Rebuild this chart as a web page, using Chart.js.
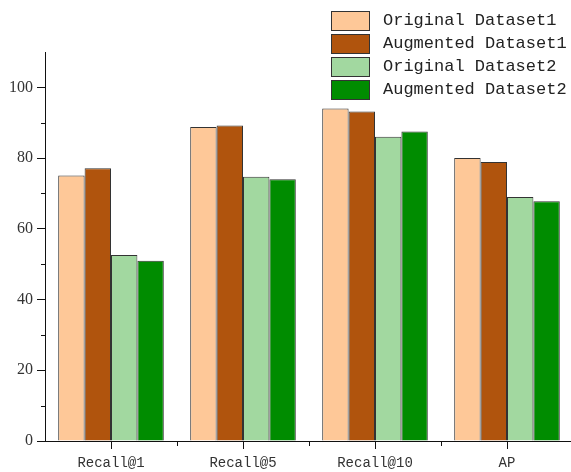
<!DOCTYPE html>
<html>
<head>
<meta charset="utf-8">
<script src="https://cdn.jsdelivr.net/npm/chart.js@4/dist/chart.umd.min.js"></script>
<style>
  html, body { margin: 0; padding: 0; background: #fff; overflow: hidden; width: 571px; height: 472px; }
  #wrap { position: relative; width: 571px; height: 472px; overflow: hidden; }
  canvas { position: absolute; left: 0; top: 0; }
  #legend { position: absolute; left: 331px; top: 9px; width: 240px; white-space: nowrap; font-family: "Liberation Mono", "DejaVu Sans Mono", monospace; font-size: 17px; color: #222; }
  .row { display: flex; align-items: center; height: 23px; white-space: nowrap; }
  .box { flex: none; width: 37px; height: 18px; border: 1px solid #333; margin-right: 13px; }
</style>
</head>
<body>
<div id="wrap">
  <canvas id="c" width="580" height="472"></canvas>
  <div id="legend"></div>
</div>
<script>
const categories = ["Recall@1", "Recall@5", "Recall@10", "AP"];
const seriesNames = ["Original Dataset1", "Augmented Dataset1", "Original Dataset2", "Augmented Dataset2"];
const originalDataset1 = [75.1, 88.8, 94.0, 80.0];
const augmentedDataset1 = [77.1, 89.2, 93.2, 78.9];
const originalDataset2 = [52.6, 74.7, 86.0, 69.0];
const augmentedDataset2 = [51.0, 74.0, 87.5, 67.8];
const seriesColors = ["#FEC898", "#B0540D", "#A2D8A0", "#008C00"];

const seriesValues = [originalDataset1, augmentedDataset1, originalDataset2, augmentedDataset2];

const datasets = seriesNames.map((name, i) => ({
  label: name,
  data: seriesValues[i],
  backgroundColor: seriesColors[i],
  borderColor: "#333",
  borderWidth: 1,
  barPercentage: 1.0,
  categoryPercentage: 0.8
}));

// HTML legend
const legendEl = document.getElementById("legend");
seriesNames.forEach((name, i) => {
  const row = document.createElement("div");
  row.className = "row";
  const box = document.createElement("div");
  box.className = "box";
  box.style.background = seriesColors[i];
  const txt = document.createElement("span");
  txt.textContent = name;
  row.appendChild(box);
  row.appendChild(txt);
  legendEl.appendChild(row);
});

const extraTicks = {
  id: "extraTicks",
  afterDraw(chart) {
    const ctx = chart.ctx;
    const y = chart.scales.y;
    const x = chart.scales.x;
    ctx.save();
    ctx.strokeStyle = "#111";
    ctx.lineWidth = 1;
    // minor y ticks
    [10, 30, 50, 70, 90].forEach(v => {
      const py = Math.round(y.getPixelForValue(v)) + 0.5;
      ctx.beginPath();
      ctx.moveTo(y.right - 4, py);
      ctx.lineTo(y.right, py);
      ctx.stroke();
    });
    // category boundary ticks on x
    for (let i = 0; i < categories.length - 1; i++) {
      const px = Math.round((x.getPixelForTick(i) + x.getPixelForTick(i + 1)) / 2) + 0.5;
      ctx.beginPath();
      ctx.moveTo(px, x.top);
      ctx.lineTo(px, x.top + 5);
      ctx.stroke();
    }
    ctx.restore();
  }
};

new Chart(document.getElementById("c"), {
  type: "bar",
  data: { labels: categories, datasets },
  options: {
    responsive: false,
    animation: false,
    layout: { padding: { top: 52, right: 7, left: 0, bottom: 0 } },
    plugins: { legend: { display: false }, tooltip: { enabled: false } },
    scales: {
      x: {
        afterFit(s) { s.height = 31; },
        grid: { display: true, drawOnChartArea: false, offset: false, tickLength: 8, tickColor: "#111", tickWidth: 1 },
        border: { display: true, color: "#111", width: 1 },
        ticks: { color: "#333", padding: 6, font: { family: "Liberation Mono", size: 14 } }
      },
      y: {
        min: 0, max: 110,
        afterFit(s) { s.width = 45; },
        afterBuildTicks(s) { s.ticks = s.ticks.filter(t => t.value <= 100 && t.value % 20 === 0); },
        grid: { display: true, drawOnChartArea: false, tickLength: 8, tickColor: "#111", tickWidth: 1 },
        border: { display: true, color: "#111", width: 1 },
        ticks: { stepSize: 20, color: "#333", padding: 4, font: { family: "Liberation Serif", size: 16 } }
      }
    }
  },
  plugins: [extraTicks]
});
</script>
</body>
</html>
